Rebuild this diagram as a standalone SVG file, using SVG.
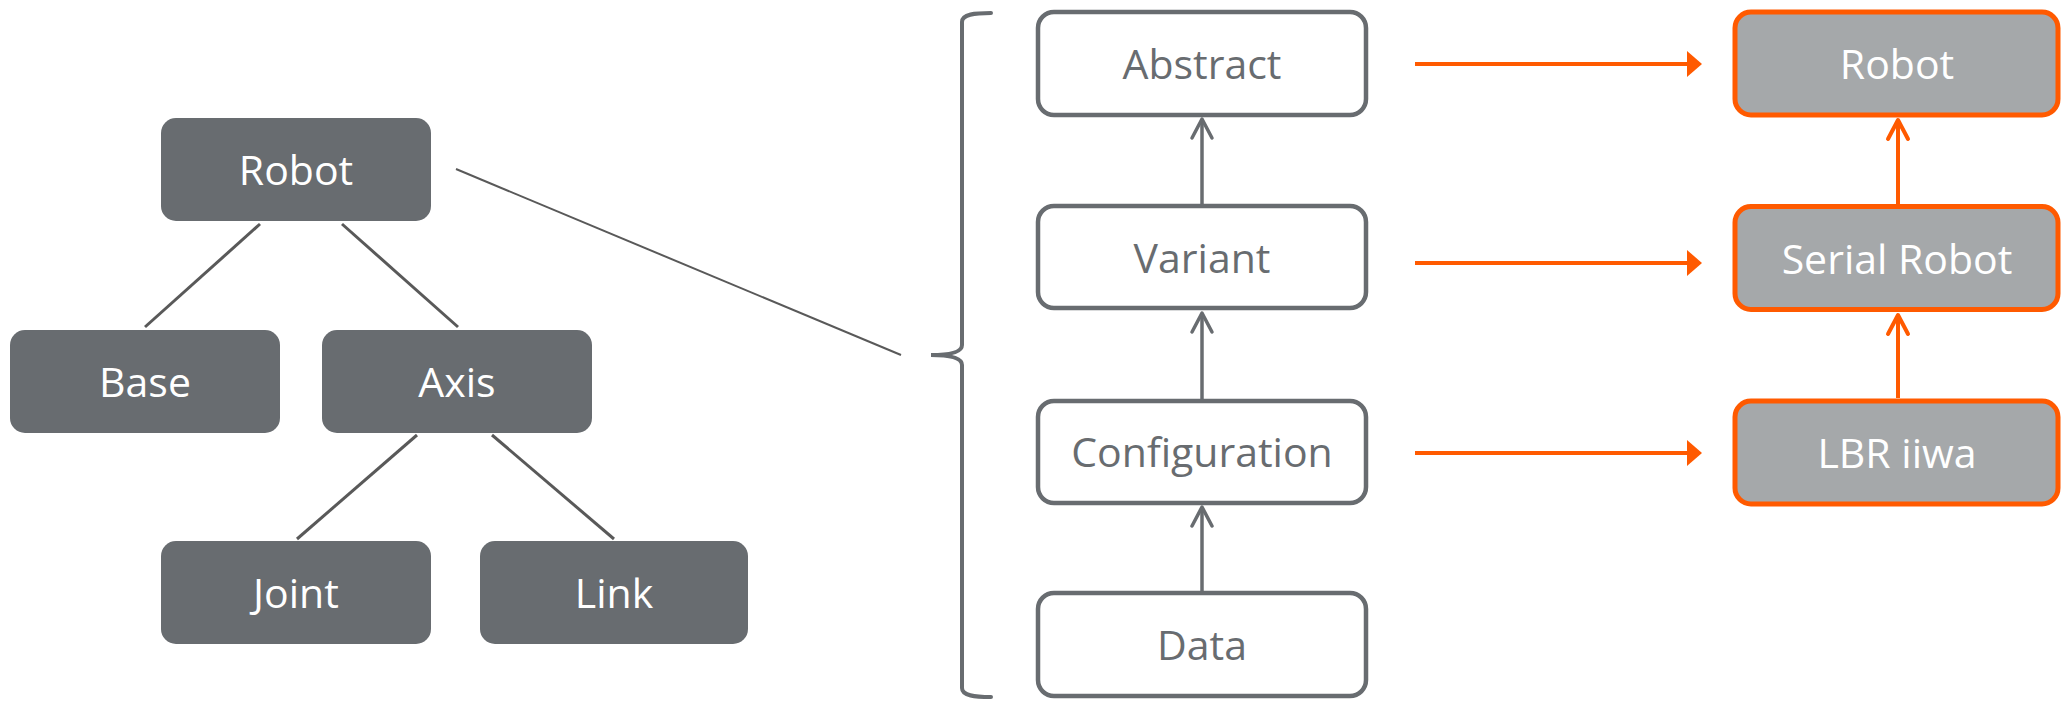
<svg xmlns="http://www.w3.org/2000/svg" width="2062" height="701" viewBox="0 0 2062 701">
<defs>
<style>
.dark rect{fill:#686c70;}
.dark text{fill:#ffffff;}
.outl rect{fill:#ffffff;stroke:#686c70;stroke-width:4.5;}
.outl text{fill:#686c70;}
.orng rect{fill:#a5a8aa;stroke:#ff5a00;stroke-width:5;}
.orng text{fill:#ffffff;}
text{font-family:"Open Sans","Noto Sans","DejaVu Sans",sans-serif;font-size:41px;text-anchor:middle;}
.tree{stroke:#595959;stroke-width:3;fill:none;}
.gline{stroke:#686c70;stroke-width:3.5;fill:none;}
.oline{stroke:#ff5a00;stroke-width:4;fill:none;}
.ohead{fill:#ff5a00;}
</style>
</defs>
<rect width="2062" height="701" fill="#ffffff"/>
<g id="connectors">
<line class="tree" x1="260" y1="224" x2="145" y2="327"/>
<line class="tree" x1="342" y1="224" x2="458" y2="327"/>
<line class="tree" x1="417" y1="435" x2="297" y2="539"/>
<line class="tree" x1="492" y1="435" x2="614" y2="539"/>
<line x1="456" y1="169" x2="901" y2="355" stroke="#595959" stroke-width="2"/>
<path d="M 991 13 C 975 13 962 14 962 22 L 962 345 C 962 352 950 355 931 355 C 950 355 962 358 962 365 L 962 688 C 962 696 975 697 991 697" stroke="#686c70" stroke-width="4" fill="none" stroke-linecap="round"/>
<line class="gline" x1="1202" y1="204" x2="1202" y2="119"/>
<polyline class="gline" points="1192,138 1202,119 1212,138" stroke-linecap="round" stroke-linejoin="round"/>
<line class="gline" x1="1202" y1="399" x2="1202" y2="313"/>
<polyline class="gline" points="1192,332 1202,313 1212,332" stroke-linecap="round" stroke-linejoin="round"/>
<line class="gline" x1="1202" y1="591" x2="1202" y2="507"/>
<polyline class="gline" points="1192,526 1202,507 1212,526" stroke-linecap="round" stroke-linejoin="round"/>
<line class="oline" x1="1415" y1="64" x2="1690" y2="64"/>
<polygon class="ohead" points="1687,51 1702,64 1687,77"/>
<line class="oline" x1="1415" y1="263" x2="1690" y2="263"/>
<polygon class="ohead" points="1687,250 1702,263 1687,276"/>
<line class="oline" x1="1415" y1="453" x2="1690" y2="453"/>
<polygon class="ohead" points="1687,440 1702,453 1687,466"/>
<line class="oline" x1="1898" y1="204" x2="1898" y2="120"/>
<polyline class="oline" points="1888,139 1898,120 1908,139" stroke-linecap="round" stroke-linejoin="round"/>
<line class="oline" x1="1898" y1="398" x2="1898" y2="315"/>
<polyline class="oline" points="1888,334 1898,315 1908,334" stroke-linecap="round" stroke-linejoin="round"/>
</g>
<g id="tree-robot" class="dark"><rect x="161" y="118" width="270" height="103" rx="15"/><text x="296" y="185">Robot</text></g>
<g id="tree-base" class="dark"><rect x="10" y="330" width="270" height="103" rx="15"/><text x="145" y="397">Base</text></g>
<g id="tree-axis" class="dark"><rect x="322" y="330" width="270" height="103" rx="15"/><text x="457" y="397">Axis</text></g>
<g id="tree-joint" class="dark"><rect x="161" y="541" width="270" height="103" rx="15"/><text x="296" y="608">Joint</text></g>
<g id="tree-link" class="dark"><rect x="480" y="541" width="268" height="103" rx="15"/><text x="614" y="608">Link</text></g>
<g id="abstract" class="outl"><rect x="1038" y="12" width="328" height="103" rx="16"/><text x="1202" y="79">Abstract</text></g>
<g id="variant" class="outl"><rect x="1038" y="206" width="328" height="102" rx="16"/><text x="1202" y="273">Variant</text></g>
<g id="configuration" class="outl"><rect x="1038" y="401" width="328" height="102" rx="16"/><text x="1202" y="467">Configuration</text></g>
<g id="data" class="outl"><rect x="1038" y="593" width="328" height="103" rx="16"/><text x="1202" y="660">Data</text></g>
<g id="robot" class="orng"><rect x="1735" y="12" width="323" height="103" rx="16"/><text x="1897" y="79">Robot</text></g>
<g id="serial-robot" class="orng"><rect x="1735" y="206.5" width="323" height="103" rx="16"/><text x="1897" y="274">Serial Robot</text></g>
<g id="lbr-iiwa" class="orng"><rect x="1735" y="401" width="323" height="103" rx="16"/><text x="1897" y="468">LBR iiwa</text></g>
</svg>
